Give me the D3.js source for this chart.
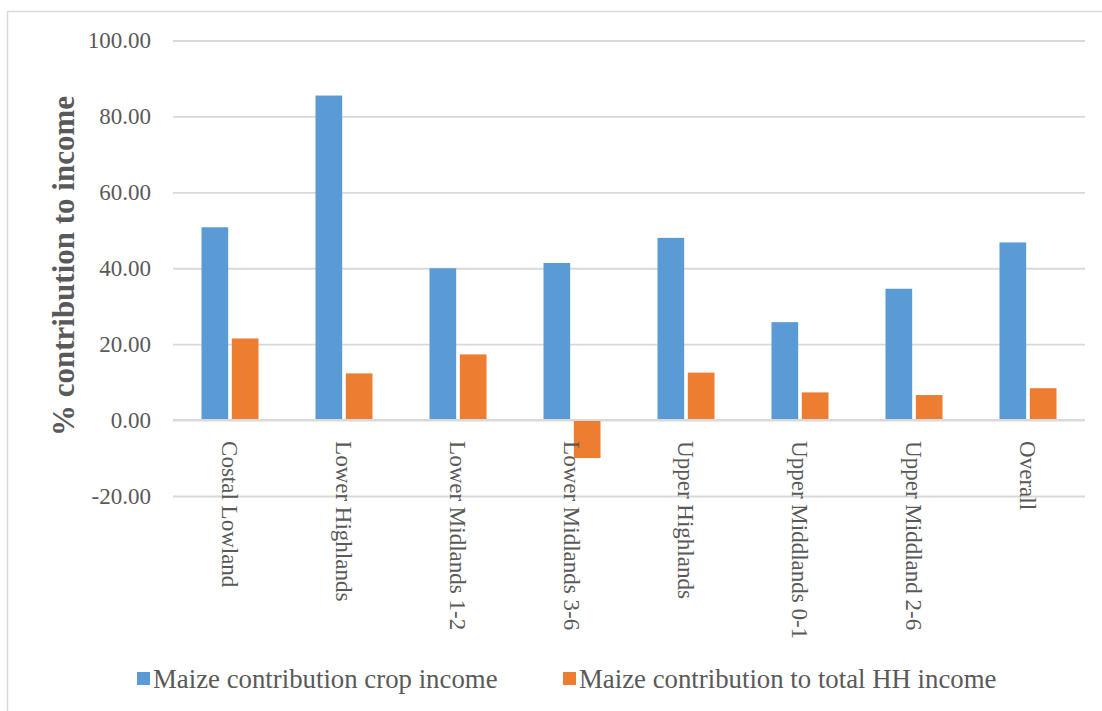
<!DOCTYPE html>
<html>
<head>
<meta charset="utf-8">
<script src="https://cdn.jsdelivr.net/npm/d3@7"></script>
<style>
  html, body { margin: 0; padding: 0; background: #fff; }
  svg { display: block; }
  text { font-family: "Liberation Serif", "Times New Roman", serif; fill: #595959; }
</style>
</head>
<body>
<svg id="chart" width="1102" height="711"></svg>
<script>
// Regions (agro-ecological zones) and the two maize income shares, in percent
const categories = [
  "Costal Lowland", "Lower Highlands", "Lower Midlands 1-2", "Lower Midlands 3-6",
  "Upper Highlands", "Upper Middlands 0-1", "Upper Middland 2-6", "Overall"
];
const cropIncomeShare = [50.8, 85.5, 40.0, 41.4, 48.0, 25.8, 34.6, 46.8];
const totalIncomeShare = [21.5, 12.3, 17.3, -10.0, 12.5, 7.3, 6.6, 8.4];
const seriesNames = ["Maize contribution crop income", "Maize contribution to total HH income"];
const seriesColors = ["#5B9BD5", "#ED7D31"];
const yTicks = [-20, 0, 20, 40, 60, 80, 100];

const svg = d3.select("#chart");

// outer chart frame
svg.append("rect")
  .attr("x", 7.5).attr("y", 11.5)
  .attr("width", 1110).attr("height", 710)
  .attr("fill", "none").attr("stroke", "#d9d9d9").attr("stroke-width", 1.5);

const plot = { left: 173, right: 1085, top: 40.5, bottom: 496 };

const y = d3.scaleLinear().domain([-20, 100]).range([plot.bottom, plot.top]);
const x = d3.scaleBand().domain(categories).range([plot.left, plot.right]);
const inner = d3.scaleBand().domain([0, 1])
  .range([x.bandwidth() * 0.25, x.bandwidth() * 0.75])
  .paddingInner(0.12);

// gridlines and value labels (plain hyphen for negatives)
const fmt = v => v.toFixed(2);
const yAxis = d3.axisLeft(y).tickValues(yTicks)
  .tickSize(-(plot.right - plot.left)).tickPadding(22)
  .tickFormat(fmt);
const gy = svg.append("g").attr("transform", `translate(${plot.left},0)`).call(yAxis);
gy.select(".domain").remove();
gy.selectAll(".tick line").attr("stroke", "#d9d9d9").attr("stroke-width", 1.8);
gy.selectAll(".tick text")
  .attr("font-size", 23).attr("fill", "#595959")
  .attr("font-family", "Liberation Serif, Times New Roman, serif");

// bars
const rows = categories.map((c, i) => ({ c, v: [cropIncomeShare[i], totalIncomeShare[i]] }));
const groups = svg.append("g").selectAll("g").data(rows).join("g")
  .attr("transform", d => `translate(${x(d.c)},0)`);
groups.selectAll("rect")
  .data(d => d.v.map((v, s) => ({ v, s })))
  .join("rect")
  .attr("x", d => inner(d.s))
  .attr("width", inner.bandwidth())
  .attr("y", d => y(Math.max(0, d.v)))
  .attr("height", d => Math.abs(y(d.v) - y(0)))
  .attr("fill", d => seriesColors[d.s]);

// zero line drawn over the bars
svg.append("line")
  .attr("x1", plot.left).attr("x2", plot.right)
  .attr("y1", y(0)).attr("y2", y(0))
  .attr("stroke", "#d9d9d9").attr("stroke-width", 2);

// rotated category labels, reading top to bottom
svg.append("g").selectAll("text").data(categories).join("text")
  .attr("transform", d => `translate(${x(d) + x.bandwidth() / 2},${y(0) + 21}) rotate(90)`)
  .attr("dy", "0.35em")
  .attr("text-anchor", "start")
  .attr("font-size", 23)
  .text(d => d);

// y-axis title
svg.append("text")
  .attr("transform", `translate(63,266) rotate(-90)`)
  .attr("text-anchor", "middle")
  .attr("dy", "0.35em")
  .attr("font-size", 31)
  .attr("font-weight", "bold")
  .text("% contribution to income");

// legend
const legendX = [137, 563];
const lg = svg.append("g").selectAll("g").data(seriesNames).join("g")
  .attr("transform", (d, i) => `translate(${legendX[i]},679)`);
lg.append("rect").attr("x", 0).attr("y", -7).attr("width", 13).attr("height", 13)
  .attr("fill", (d, i) => seriesColors[i]);
lg.append("text").attr("x", 16).attr("dy", "0.35em")
  .attr("font-size", 26.8)
  .text(d => d);
</script>
</body>
</html>
